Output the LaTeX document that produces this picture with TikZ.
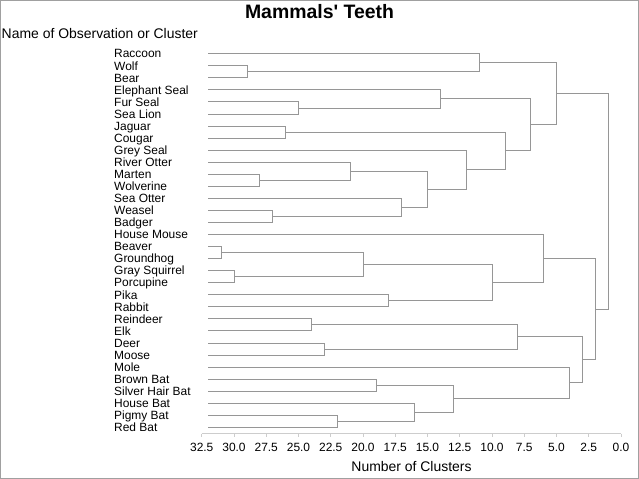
\documentclass[tikz,border=0pt]{standalone}
\usepackage{fontspec}
\setmainfont{Liberation Sans}
\definecolor{linkgray}{RGB}{150,150,150}
\definecolor{axisgray}{RGB}{205,205,205}
\definecolor{framegray}{RGB}{160,160,160}
\begin{document}
\begin{tikzpicture}[x=1bp,y=-1bp,
  declare function={hx(\h)=621-12.9*\h; iy(\i)=53.7+12.05*\i;},
  link/.style={draw=linkgray,line width=0.8bp},
  leaf/.style={anchor=base west,inner sep=0pt,font=\fontsize{12}{12}\selectfont},
  ticklab/.style={anchor=base,inner sep=0pt,font=\fontsize{12}{12}\selectfont},
  axisline/.style={draw=axisgray,line width=0.8bp}]
\useasboundingbox (0,0) rectangle (639,479);
\draw[framegray,line width=0.8bp] (0.5,0.5) rectangle (638.5,478.5);
% titles
\node[anchor=base,inner sep=0pt,font=\fontsize{19.5}{20}\selectfont\bfseries] (title) at (319.5,18.3) {Mammals\textquotesingle{} Teeth};
\node[anchor=base west,inner sep=0pt,font=\fontsize{14}{14}\selectfont] (ytitle) at (1.5,38.3) {Name of Observation or Cluster};
\node[anchor=base,inner sep=0pt,font=\fontsize{14}{14}\selectfont] (xtitle) at (411.5,471.7) {Number of Clusters};
% leaves
\foreach \name [count=\k from 0] in {Raccoon,Wolf,Bear,Elephant Seal,Fur Seal,Sea Lion,Jaguar,Cougar,Grey Seal,River Otter,Marten,Wolverine,Sea Otter,Weasel,Badger,House Mouse,Beaver,Groundhog,Gray Squirrel,Porcupine,Pika,Rabbit,Reindeer,Elk,Deer,Moose,Mole,Brown Bat,Silver Hair Bat,House Bat,Pigmy Bat,Red Bat}{
  \node[leaf] (t\k) at (114,{iy(\k)+4.3}) {\name};
  \coordinate (l\k) at ({hx(32)},{iy(\k)});
}
% internal nodes (height, mean leaf index)
\coordinate (n31) at ({hx(31)},{iy(16.5)});
\coordinate (n30) at ({hx(30)},{iy(18.5)});
\coordinate (n29) at ({hx(29)},{iy(1.5)});
\coordinate (n28) at ({hx(28)},{iy(10.5)});
\coordinate (n27) at ({hx(27)},{iy(13.5)});
\coordinate (n26) at ({hx(26)},{iy(6.5)});
\coordinate (n25) at ({hx(25)},{iy(4.5)});
\coordinate (n24) at ({hx(24)},{iy(22.5)});
\coordinate (n23) at ({hx(23)},{iy(24.5)});
\coordinate (n22) at ({hx(22)},{iy(30.5)});
\coordinate (n21) at ({hx(21)},{iy(9.75)});
\coordinate (n20) at ({hx(20)},{iy(17.5)});
\coordinate (n19) at ({hx(19)},{iy(27.5)});
\coordinate (n18) at ({hx(18)},{iy(20.5)});
\coordinate (n17) at ({hx(17)},{iy(12.75)});
\coordinate (n16) at ({hx(16)},{iy(29.75)});
\coordinate (n15) at ({hx(15)},{iy(11.25)});
\coordinate (n14) at ({hx(14)},{iy(3.75)});
\coordinate (n13) at ({hx(13)},{iy(28.625)});
\coordinate (n12) at ({hx(12)},{iy(9.625)});
\coordinate (n11) at ({hx(11)},{iy(0.75)});
\coordinate (n10) at ({hx(10)},{iy(19)});
\coordinate (n9) at ({hx(9)},{iy(8.0625)});
\coordinate (n8) at ({hx(8)},{iy(23.5)});
\coordinate (n7) at ({hx(7)},{iy(5.90625)});
\coordinate (n6) at ({hx(6)},{iy(17)});
\coordinate (n5) at ({hx(5)},{iy(3.328125)});
\coordinate (n4) at ({hx(4)},{iy(27.3125)});
\coordinate (n3) at ({hx(3)},{iy(25.40625)});
\coordinate (n2) at ({hx(2)},{iy(21.203125)});
\coordinate (n1) at ({hx(1)},{iy(12.265625)});
% links: child -| parent
\foreach \c/\p in {l16/n31,l17/n31,l18/n30,l19/n30,l1/n29,l2/n29,l10/n28,l11/n28,
  l13/n27,l14/n27,l6/n26,l7/n26,l4/n25,l5/n25,l22/n24,l23/n24,l24/n23,l25/n23,
  l30/n22,l31/n22,l9/n21,n28/n21,n31/n20,n30/n20,l27/n19,l28/n19,l20/n18,l21/n18,
  l12/n17,n27/n17,l29/n16,n22/n16,n21/n15,n17/n15,l3/n14,n25/n14,n19/n13,n16/n13,
  l8/n12,n15/n12,l0/n11,n29/n11,n20/n10,n18/n10,n26/n9,n12/n9,n24/n8,n23/n8,
  n14/n7,n9/n7,l15/n6,n10/n6,n11/n5,n7/n5,l26/n4,n13/n4,n8/n3,n4/n3,n6/n2,n3/n2,
  n5/n1,n2/n1}{
  \draw[link] (\c) -| (\p);
}
% axis
\coordinate (a0) at ({hx(32.5)},433.5);
\coordinate (a1) at ({hx(0)},433.5);
\draw[axisline] (a0) -- (a1);
\foreach \v/\lab in {0/0.0,2.5/2.5,5/5.0,7.5/7.5,10/10.0,12.5/12.5,15/15.0,17.5/17.5,20/20.0,22.5/22.5,25/25.0,27.5/27.5,30/30.0,32.5/32.5}{
  \coordinate (tk) at ({hx(\v)},433.5);
  \draw[axisline] (tk) -- ++(0,3.5);
  \node[ticklab] (lab\v) at ({hx(\v)},451.7) {\lab};
}
\end{tikzpicture}
\end{document}
